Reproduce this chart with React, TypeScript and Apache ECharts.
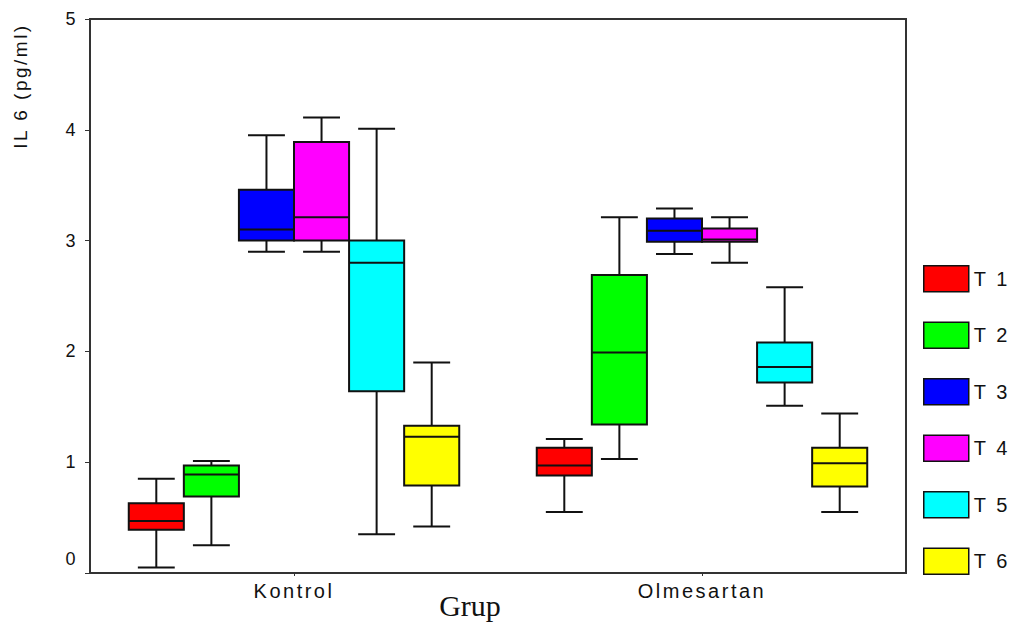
import React, { useEffect, useRef } from "react";
import * as echarts from "echarts";

const categories = ["Kontrol", "Olmesartan"];
const seriesNames = ["T 1", "T 2", "T 3", "T 4", "T 5", "T 6"];
const seriesColors = ["#FF0000", "#00FF00", "#0000FF", "#FF00FF", "#00FFFF", "#FFFF00"];
const yTicks = [0, 1, 2, 3, 4, 5];

// [min, q1, median, q3, max] per category (Kontrol, Olmesartan)
const t1 = [[0.05, 0.39, 0.47, 0.63, 0.85], [0.55, 0.88, 0.97, 1.13, 1.21]];
const t2 = [[0.25, 0.69, 0.89, 0.97, 1.01], [1.03, 1.34, 1.99, 2.69, 3.21]];
const t3 = [[2.9, 3.0, 3.1, 3.46, 3.95], [2.88, 2.99, 3.09, 3.2, 3.29]];
const t4 = [[2.9, 3.0, 3.21, 3.89, 4.11], [2.8, 2.99, 3.01, 3.11, 3.21]];
const t5 = [[0.35, 1.64, 2.8, 3.0, 4.01], [1.51, 1.72, 1.86, 2.08, 2.58]];
const t6 = [[0.42, 0.79, 1.23, 1.33, 1.9], [0.55, 0.78, 0.99, 1.13, 1.44]];
const allSeries = [t1, t2, t3, t4, t5, t6];

export default function App() {
  const ref = useRef<HTMLDivElement>(null);
  useEffect(() => {
    if (!ref.current) return;
    const chart = echarts.init(ref.current, null, { renderer: "svg" });
    const n = allSeries.length;
    const series = allSeries.map((vals, si) => ({
      type: "custom",
      name: seriesNames[si],
      itemStyle: { color: seriesColors[si], borderColor: "#111", borderWidth: 1.5 },
      data: vals.map((v, ci) => [ci, ...v]),
      renderItem: (params: any, api: any) => {
        const x = api.value(0);
        const lo = api.coord([x, api.value(1)]);
        const q1 = api.coord([x, api.value(2)]);
        const med = api.coord([x, api.value(3)]);
        const q3 = api.coord([x, api.value(4)]);
        const hi = api.coord([x, api.value(5)]);
        const band = api.size([1, 0])[0];
        const w = band * 0.135;
        const cx = lo[0] + (si - (n - 1) / 2) * w;
        const cap = w * 0.67;
        const ls = { stroke: "#111", lineWidth: 2 };
        return {
          type: "group",
          children: [
            { type: "line", shape: { x1: cx, y1: hi[1], x2: cx, y2: q3[1] }, style: ls },
            { type: "line", shape: { x1: cx, y1: q1[1], x2: cx, y2: lo[1] }, style: ls },
            { type: "line", shape: { x1: cx - cap / 2, y1: hi[1], x2: cx + cap / 2, y2: hi[1] }, style: ls },
            { type: "line", shape: { x1: cx - cap / 2, y1: lo[1], x2: cx + cap / 2, y2: lo[1] }, style: ls },
            {
              type: "rect",
              shape: { x: cx - w / 2, y: q3[1], width: w, height: q1[1] - q3[1] },
              style: { fill: seriesColors[si], stroke: "#111", lineWidth: 2 },
            },
            { type: "line", shape: { x1: cx - w / 2, y1: med[1], x2: cx + w / 2, y2: med[1] }, style: ls },
          ],
        };
      },
    }));
    chart.setOption({
      animation: false,
      backgroundColor: "#fff",
      grid: {
        left: 90,
        right: 109,
        top: 19,
        bottom: 55,
        show: true,
        borderColor: "#333",
        borderWidth: 2,
        containLabel: false,
        outerBoundsMode: "none",
      },
      legend: {
        orient: "vertical",
        left: 923,
        top: 265,
        padding: 0,
        itemWidth: 45,
        itemHeight: 26,
        itemGap: 29,
        icon: "rect",
        itemStyle: { borderColor: "#111", borderWidth: 1.5 },
        textStyle: { fontFamily: "Liberation Sans", fontSize: 20, color: "#111" },
        data: seriesNames,
      },
      xAxis: {
        type: "category",
        data: categories,
        boundaryGap: true,
        axisLine: { show: true, lineStyle: { color: "#333", width: 2 } },
        axisTick: { show: true, alignWithLabel: true, length: 3, lineStyle: { color: "#333" } },
        axisLabel: { fontFamily: "Liberation Sans", fontSize: 20, color: "#111", margin: 8 },
        splitLine: { show: false },
      },
      yAxis: {
        type: "value",
        min: yTicks[0],
        max: yTicks[yTicks.length - 1],
        interval: 1,
        axisLine: { show: true, lineStyle: { color: "#333", width: 2 } },
        axisTick: { show: true, length: 5, lineStyle: { color: "#333" } },
        splitLine: { show: false },
        axisLabel: {
          fontFamily: "Liberation Sans",
          fontSize: 18,
          color: "#111",
          margin: 12,
          formatter: (v: number) => (v === 0 ? "{z|0}" : String(v)),
          rich: { z: { fontFamily: "Liberation Sans", fontSize: 18, color: "#111", padding: [0, 0, 28, 0] } },
        },
      },
      graphic: [
        {
          type: "text",
          x: 20,
          y: 86,
          rotation: Math.PI / 2,
          style: {
            text: "IL 6 (pg/ml)",
            fontFamily: "Liberation Sans",
            fontSize: 19,
            fill: "#111",
            align: "center",
            verticalAlign: "middle",
          },
        },
        {
          type: "text",
          x: 470,
          y: 605,
          style: {
            text: "Grup",
            fontFamily: "Liberation Serif",
            fontSize: 30,
            fill: "#111",
            align: "center",
            verticalAlign: "middle",
          },
        },
      ],
      series,
    });
    return () => chart.dispose();
  }, []);
  return (
    <>
      <style>{`.chartbox svg text{letter-spacing:2.5px}.chartbox svg text[style*="Serif"]{letter-spacing:0}`}</style>
      <div
        className="chartbox"
        ref={ref}
        style={{ position: "fixed", left: 0, top: 0, width: 1015, height: 628 }}
      />
    </>
  );
}
